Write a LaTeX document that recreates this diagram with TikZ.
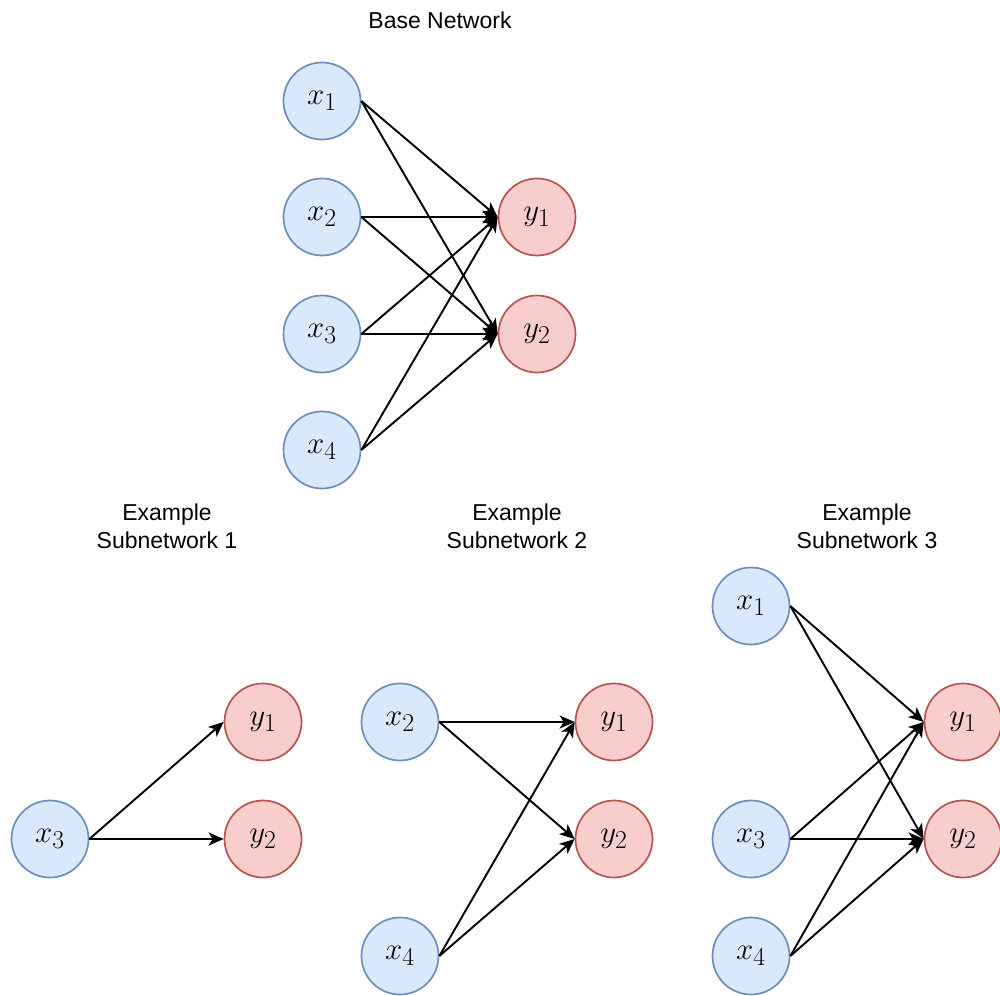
\documentclass[tikz,border=0pt]{standalone}
\usepackage{graphicx}
\usepackage{fontspec}
\setmainfont{Liberation Sans}
\usetikzlibrary{arrows.meta}
\definecolor{inblue}{HTML}{DAE8FC}
\definecolor{inbluedraw}{HTML}{6C8EBF}
\definecolor{outred}{HTML}{F8CECC}
\definecolor{outreddraw}{HTML}{B85450}
% math label of a neuron, enlarged past the largest fixed CM size
\newcommand{\nlab}[1]{\scalebox{1.24}{$#1$}}
\begin{document}
\begin{tikzpicture}[x=1pt,y=-1pt,
  neuron/.style={circle,minimum size=77pt,inner sep=0pt,line width=1.7pt,
    font=\fontsize{24.88}{28}\selectfont},
  innode/.style={neuron,fill=inblue,draw=inbluedraw},
  outnode/.style={neuron,fill=outred,draw=outreddraw},
  edge/.style={line width=1.9pt,-{Stealth[length=15pt,width=13pt,inset=4pt]}},
  title/.style={font=\fontsize{23}{28}\selectfont,align=center}]
\useasboundingbox (0,0) rectangle (1000,995);

% base network
\node[title] (tbase) at (440,20) {Base Network};
\node[innode] (b1) at (322,101) {\nlab{x_1}};
\node[innode] (b2) at (322,217) {\nlab{x_2}};
\node[innode] (b3) at (322,334) {\nlab{x_3}};
\node[innode] (b4) at (322,450) {\nlab{x_4}};
\node[outnode] (by1) at (537,217) {\nlab{y_1}};
\node[outnode] (by2) at (537,334) {\nlab{y_2}};
\foreach \i in {1,2,3,4}{
  \draw[edge] (b\i.east) -- (by1.west);
  \draw[edge] (b\i.east) -- (by2.west);
}

% subnetwork 1
\node[title] (t1) at (167,526) {Example\\Subnetwork 1};
\node[innode] (s1x3) at (50,839) {\nlab{x_3}};
\node[outnode] (s1y1) at (263,722) {\nlab{y_1}};
\node[outnode] (s1y2) at (263,839) {\nlab{y_2}};
\draw[edge] (s1x3.east) -- (s1y1.west);
\draw[edge] (s1x3.east) -- (s1y2.west);

% subnetwork 2
\node[title] (t2) at (517,526) {Example\\Subnetwork 2};
\node[innode] (s2x2) at (400,722) {\nlab{x_2}};
\node[innode] (s2x4) at (400,956) {\nlab{x_4}};
\node[outnode] (s2y1) at (614,722) {\nlab{y_1}};
\node[outnode] (s2y2) at (614,839) {\nlab{y_2}};
\foreach \a in {s2x2,s2x4}{
  \draw[edge] (\a.east) -- (s2y1.west);
  \draw[edge] (\a.east) -- (s2y2.west);
}

% subnetwork 3
\node[title] (t3) at (867,526) {Example\\Subnetwork 3};
\node[innode] (s3x1) at (751,606) {\nlab{x_1}};
\node[innode] (s3x3) at (751,839) {\nlab{x_3}};
\node[innode] (s3x4) at (751,956) {\nlab{x_4}};
\node[outnode] (s3y1) at (963,722) {\nlab{y_1}};
\node[outnode] (s3y2) at (963,839) {\nlab{y_2}};
\foreach \a in {s3x1,s3x3,s3x4}{
  \draw[edge] (\a.east) -- (s3y1.west);
  \draw[edge] (\a.east) -- (s3y2.west);
}
\end{tikzpicture}
\end{document}
